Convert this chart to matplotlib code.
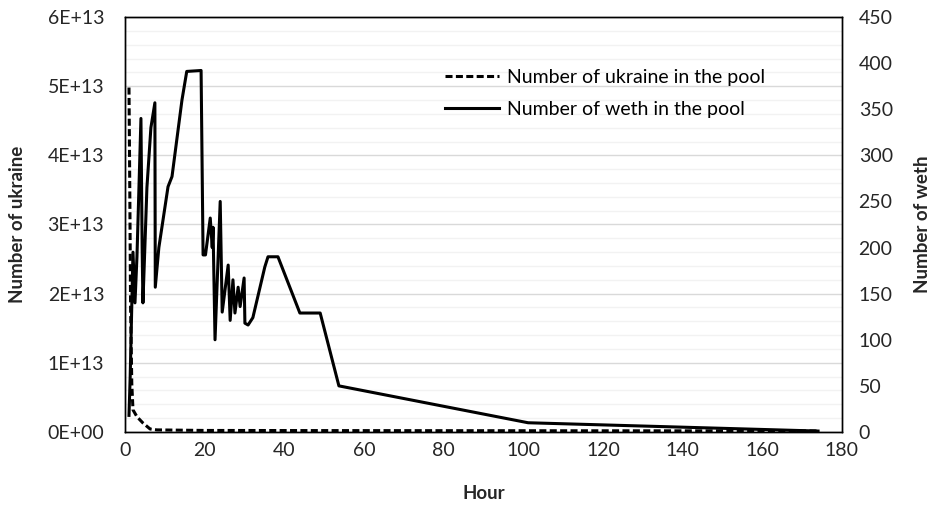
import matplotlib
matplotlib.use("Agg")
import matplotlib.pyplot as plt
from matplotlib.ticker import MultipleLocator, FuncFormatter

plt.rcParams['font.family'] = ['Lato', 'DejaVu Sans']

# weth in the pool (right axis)
weth_hour = [1.0, 1.3, 2.0, 2.5, 3.0, 4.0, 4.3, 4.5, 5.5, 6.5, 7.5, 7.6, 8.5, 10.8,
             11.8, 14.3, 15.5, 19.1, 19.6, 20.2, 21.4, 21.9, 22.1, 22.6, 23.9,
             24.4, 25.9, 26.4, 27.1, 27.6, 28.4, 28.9, 29.9, 30.1, 30.9,
             32.1, 35.1, 35.9, 38.4, 43.9, 49.0, 53.7, 101.2, 174.0]
weth = [18, 60, 195, 140, 190, 340, 200, 140, 265, 330, 357, 157, 200, 266,
        277, 360, 391, 392, 192, 192, 232, 200, 222, 100, 250, 130, 181, 121,
        165, 129, 157, 136, 167, 118, 116, 124, 179, 190, 190, 129, 129,
        50, 10, 1]

# ukraine in the pool (left axis)
ukr_hour = [1.0, 1.2, 1.4, 1.7, 2.0, 3.0, 4.5, 6.3, 8.0, 20.0, 50.0, 100.0, 174.0]
ukraine = [4.98e13, 3.5e13, 1.8e13, 7e12, 3.2e12, 2.2e12, 1.3e12, 4.3e11,
           3e11, 2.2e11, 2e11, 1.8e11, 1.5e11]

fig = plt.figure(figsize=(9.35, 5.05), dpi=100)
ax = fig.add_axes([0.1337, 0.1446, 0.7668, 0.8217])
ax2 = ax.twinx()

ax.set_xlim(0, 180)
ax.set_ylim(0, 6e13)
ax2.set_ylim(0, 450)
ax.xaxis.set_major_locator(MultipleLocator(20))
ax.yaxis.set_major_locator(MultipleLocator(1e13))
ax.yaxis.set_minor_locator(MultipleLocator(2e12))
ax2.yaxis.set_major_locator(MultipleLocator(50))

def sci(v, pos):
    if v == 0:
        return "0E+00"
    return "%dE+13" % round(v / 1e13)

ax.yaxis.set_major_formatter(FuncFormatter(sci))

ax.grid(which='major', axis='y', color='#d9d9d9', lw=1.0)
ax.grid(which='minor', axis='y', color='#f2f2f2', lw=1.0)
ax.set_axisbelow(True)

for a in (ax, ax2):
    a.tick_params(which='both', length=0, labelsize=14, colors='#262626')
    for s in a.spines.values():
        s.set_color('black')
        s.set_linewidth(1.0)
ax.tick_params(axis='x', pad=7)
ax.tick_params(axis='y', pad=15)
ax2.tick_params(axis='y', pad=12)

l1, = ax.plot(ukr_hour, ukraine, color='black', lw=2.2, ls=(0, (2.3, 1.1)),
              label='Number of ukraine in the pool')
l2, = ax2.plot(weth_hour, weth, color='black', lw=2.2,
               label='Number of weth in the pool')

ax.set_xlabel('Hour', fontsize=13.5, fontweight='bold', color='#262626')
ax.set_ylabel('Number of ukraine', fontsize=13.5, fontweight='bold', color='#262626')
ax2.set_ylabel('Number of weth', fontsize=13.5, fontweight='bold', color='#262626')
ax.xaxis.set_label_coords(0.5, -0.128)
ax.yaxis.set_label_coords(-0.138, 0.5)
ax2.yaxis.set_label_coords(1.100, 0.5)

ax2.legend(handles=[l1, l2], loc='upper left', bbox_to_anchor=(0.435, 0.893),
           frameon=False, fontsize=14, handlelength=2.8, handletextpad=0.4,
           labelspacing=0.75, borderaxespad=0)

fig.savefig('out.png', dpi=100)
